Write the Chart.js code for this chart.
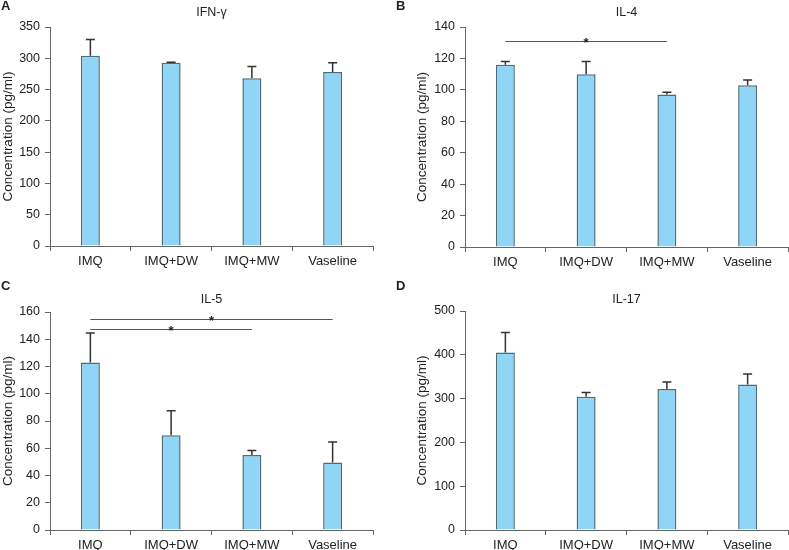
<!DOCTYPE html>
<html>
<head>
<meta charset="utf-8">
<script src="https://cdn.jsdelivr.net/npm/chart.js@4.4.1/dist/chart.umd.min.js"></script>
<style>
  body { margin: 0; background: #fff; }
  .panel { position: absolute; }
</style>
</head>
<body>
<div class="panel" style="left:0;top:0;width:394px;height:275px"><canvas id="chartA"></canvas></div>
<div class="panel" style="left:395px;top:0;width:394px;height:275px"><canvas id="chartB"></canvas></div>
<div class="panel" style="left:0;top:280px;width:394px;height:270px"><canvas id="chartC"></canvas></div>
<div class="panel" style="left:395px;top:280px;width:394px;height:270px"><canvas id="chartD"></canvas></div>
<script>
// groups on the x axis
var groups = ['IMQ', 'IMQ+DW', 'IMQ+MW', 'Vaseline'];

// A: IFN-gamma
var ifnMean = [304, 293, 268, 278];
var ifnErr = [26, 0.5, 19, 15];
// B: IL-4
var il4Mean = [116, 110, 97, 103];
var il4Err = [2, 8, 1.5, 3.3];
// C: IL-5
var il5Mean = [123, 69.5, 55, 49.5];
var il5Err = [21.5, 18, 3.3, 15];
// D: IL-17
var il17Mean = [405, 304, 322, 332];
var il17Err = [46, 10, 16, 24];

// significance brackets: [from group, to group, y value]
var il4Sig = [[0, 2, 131]];
var il5Sig = [[0, 3, 155], [0, 2, 147.5]];

var FONT = "'Liberation Sans', Arial, sans-serif";
var barFill = '#8fd5f5';
var barEdge = '#4f6b78';
var axisCol = '#666666';

var extras = {
    id: 'extras',
    afterDatasetsDraw: function(chart, args, opts) {
        var ctx = chart.ctx;
        var x = chart.scales.x, y = chart.scales.y;
        var meta = chart.getDatasetMeta(0);
        ctx.save();
        // error bars, upper half only
        ctx.strokeStyle = '#333';
        ctx.lineWidth = 1.5;
        for (var i = 0; i < opts.means.length; i++) {
            var cx = meta.data[i].x;
            var top = y.getPixelForValue(opts.means[i] + opts.errs[i]);
            var base = y.getPixelForValue(opts.means[i]);
            ctx.beginPath();
            ctx.moveTo(cx, base);
            ctx.lineTo(cx, top);
            ctx.moveTo(cx - 4.5, top);
            ctx.lineTo(cx + 4.5, top);
            ctx.stroke();
        }
        // significance lines
        ctx.strokeStyle = '#555';
        ctx.lineWidth = 1;
        ctx.fillStyle = '#222';
        ctx.font = 'bold 13px ' + FONT;
        ctx.textAlign = 'center';
        ctx.textBaseline = 'alphabetic';
        for (var j = 0; j < opts.sig.length; j++) {
            var s = opts.sig[j];
            var x1 = x.getPixelForValue(s[0]), x2 = x.getPixelForValue(s[1]);
            var ly = Math.round(y.getPixelForValue(s[2])) + 0.5;
            ctx.beginPath();
            ctx.moveTo(x1, ly);
            ctx.lineTo(x2, ly);
            ctx.stroke();
            ctx.fillText('*', (x1 + x2) / 2, ly + 5);
        }
        // title over plot, panel letter
        ctx.fillStyle = '#222';
        ctx.font = '12.5px ' + FONT;
        ctx.textBaseline = 'middle';
        ctx.fillText(opts.title, (chart.chartArea.left + chart.chartArea.right) / 2, opts.titleY);
        ctx.font = 'bold 13px ' + FONT;
        ctx.textAlign = 'left';
        ctx.textBaseline = 'top';
        ctx.fillText(opts.letter, 1, 0);
        ctx.restore();
    }
};

function makeChart(id, means, errs, sig, maxY, step, title, letter, geo) {
    return new Chart(document.getElementById(id), {
        type: 'bar',
        data: {
            labels: groups,
            datasets: [{
                data: means,
                backgroundColor: barFill,
                borderColor: barEdge,
                borderWidth: 1.5,
                categoryPercentage: 1,
                barPercentage: 0.235
            }]
        },
        options: {
            responsive: true,
            maintainAspectRatio: false,
            animation: false,
            layout: { padding: { left: geo.padLeft, top: geo.top, right: geo.right, bottom: 0 } },
            plugins: {
                legend: { display: false },
                tooltip: { enabled: false },
                extras: { means: means, errs: errs, sig: sig, title: title, letter: letter, titleY: geo.titleY }
            },
            scales: {
                x: {
                    grid: { drawOnChartArea: false, tickLength: 5, color: axisCol, offset: true },
                    border: { color: axisCol, width: 1 },
                    ticks: { color: '#222', font: { family: FONT, size: 13 }, padding: 3, maxRotation: 0 },
                    afterFit: function(scale) { scale.height = geo.xh; }
                },
                y: {
                    min: 0,
                    max: maxY,
                    grid: { drawOnChartArea: false, tickLength: 5, color: axisCol },
                    border: { color: axisCol, width: 1 },
                    ticks: { stepSize: step, color: '#222', font: { family: FONT, size: 12.5 }, padding: 5 },
                    title: {
                        display: true,
                        text: 'Concentration (pg/ml)',
                        color: '#222',
                        font: { family: FONT, size: 13.5 },
                        padding: { top: 0, bottom: 0 }
                    },
                    afterFit: function(scale) { scale.width = geo.yw; }
                }
            }
        },
        plugins: [extras]
    });
}

makeChart('chartA', ifnMean, ifnErr, [], 350, 50, 'IFN-\u03b3', 'A',
    { padLeft: 0, yw: 50, top: 27, right: 21, xh: 29, titleY: 13 });
makeChart('chartB', il4Mean, il4Err, il4Sig, 140, 20, 'IL-4', 'B',
    { padLeft: 19, yw: 51, top: 27, right: 1, xh: 28, titleY: 13 });
makeChart('chartC', il5Mean, il5Err, il5Sig, 160, 20, 'IL-5', 'C',
    { padLeft: 0, yw: 50, top: 32, right: 21, xh: 20, titleY: 20 });
makeChart('chartD', il17Mean, il17Err, [], 500, 100, 'IL-17', 'D',
    { padLeft: 19, yw: 51, top: 31, right: 1, xh: 20, titleY: 20 });
</script>
</body>
</html>
